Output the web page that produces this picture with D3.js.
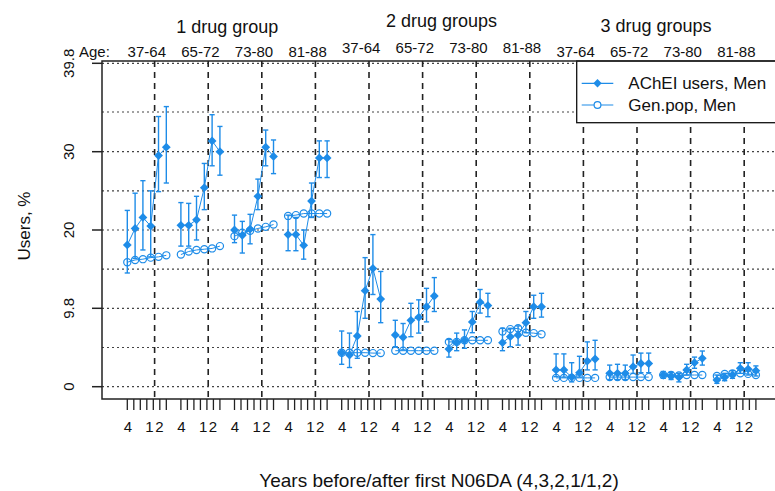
<!DOCTYPE html>
<html><head><meta charset="utf-8">
<script src="https://cdn.jsdelivr.net/npm/d3@7"></script>
<style>
body{margin:0;background:#fff}
text{font-family:Arial,"Liberation Sans",sans-serif;fill:#111}
</style>
</head><body>
<svg id="c" width="775" height="491"></svg>
<script>
// ---------------- data ----------------
const blocks = ["1 drug group", "2 drug groups", "3 drug groups"];
const ages = ["37-64", "65-72", "73-80", "81-88"];
const years = ["-4", "-3", "-2", "-1", "+1", "+2"];
const yearTickLabels = [{label: "4", year: "-4", dx: 0.5}, {label: "1", year: "-1", dx: -1.2}, {label: "2", year: "+1", dx: 0.8}];
const yTicks = [0, 9.8, 20, 30, 39.8];
const yTickPos = [386.7, 308.3, 230, 151.7, 63.3];
const yMinorGrid = [4.9, 14.9, 25, 34.4];

// AChEI users, Men (per group: years 4,3,2,1 before / 1,2 after)
const achei = [
  [18.05, 20.2, 21.6, 20.5, 29.5, 30.5],
  [20.6, 20.6, 21.3, 25.4, 31.2, 30.0],
  [20.0, 19.3, 20.1, 24.3, 30.5, 29.4],
  [19.4, 19.4, 18.0, 23.7, 29.2, 29.2],
  [4.25, 3.96, 6.34, 12.1, 15.0, 11.0],
  [6.46, 6.17, 8.3, 8.67, 10.0, 11.4],
  [4.7, 5.55, 5.8, 8.1, 10.6, 10.15],
  [5.5, 6.25, 6.46, 8.0, 10.0, 10.0],
  [2.1, 2.1, 1.2, 1.75, 3.2, 3.46],
  [1.67, 1.67, 1.67, 2.5, 2.9, 2.9],
  [1.46, 1.34, 1.17, 2.1, 3.0, 3.55],
  [0.84, 1.17, 1.46, 2.3, 2.2, 2.0]
];
const acheiLo = [
  [14.4, 16.3, 17.4, 16.5, 24.9, 26.0],
  [17.9, 17.9, 18.7, 22.6, 28.2, 27.0],
  [18.35, 17.0, 18.2, 22.6, 28.2, 27.2],
  [17.3, 17.3, 16.2, 21.6, 26.7, 26.7],
  [2.8, 2.4, 3.55, 8.55, 11.6, 8.0],
  [5.0, 4.6, 6.25, 6.7, 8.1, 9.4],
  [3.7, 4.5, 4.8, 6.75, 9.2, 8.75],
  [4.5, 5.0, 5.2, 6.75, 8.55, 8.7],
  [1.25, 1.2, 0.6, 1.2, 2.1, 2.1],
  [0.9, 0.9, 0.9, 1.67, 1.75, 1.75],
  [1.05, 0.9, 0.6, 1.46, 2.3, 2.7],
  [0.42, 0.75, 1.05, 1.67, 1.46, 1.34]
];
const acheiHi = [
  [22.5, 24.7, 26.3, 25.0, 33.9, 35.0],
  [23.5, 23.4, 24.3, 28.5, 34.1, 32.8],
  [21.9, 21.1, 22.0, 26.5, 32.4, 31.3],
  [21.9, 21.6, 20.0, 26.0, 31.2, 31.2],
  [6.96, 6.7, 9.4, 16.4, 19.4, 14.6],
  [8.3, 7.9, 10.45, 10.9, 12.4, 13.8],
  [5.9, 6.7, 7.1, 9.4, 12.25, 11.75],
  [7.3, 7.3, 7.6, 9.4, 11.5, 11.75],
  [4.1, 4.1, 3.0, 3.8, 5.6, 5.8],
  [2.7, 2.8, 2.7, 3.96, 4.2, 4.2],
  [1.9, 1.8, 1.67, 2.8, 3.7, 4.46],
  [1.46, 1.67, 2.0, 3.0, 3.0, 2.6]
];
// Gen.pop, Men
const genpop = [
  [15.8, 16.1, 16.2, 16.4, 16.5, 16.7],
  [16.8, 17.2, 17.4, 17.5, 17.6, 17.9],
  [19.2, 19.65, 19.9, 20.2, 20.4, 20.7],
  [21.8, 21.9, 22.1, 22.1, 22.1, 22.1],
  [4.25, 4.25, 4.25, 4.25, 4.2, 4.2],
  [4.5, 4.5, 4.5, 4.5, 4.5, 4.5],
  [5.6, 5.6, 5.8, 5.8, 5.8, 5.8],
  [6.9, 7.2, 7.3, 6.75, 6.7, 6.55],
  [1.1, 1.1, 1.1, 1.1, 1.1, 1.1],
  [1.2, 1.2, 1.2, 1.2, 1.2, 1.2],
  [1.46, 1.46, 1.4, 1.46, 1.46, 1.46],
  [1.34, 1.6, 1.67, 1.67, 1.6, 1.46]
];
const legendLabels = ["AChEI users, Men", "Gen.pop, Men"];

// ---------------- layout ----------------
const color = "#1e8ce8";
const plot = {left: 102, top: 61, bottom: 399, right: 800};
const svg = d3.select("#c");

const groupIds = [];
blocks.forEach((b, bi) => ages.forEach((a, ai) => groupIds.push(bi * 4 + ai)));

const xGroup = d3.scaleBand().domain(groupIds).range([127.3, 755.9]).paddingInner(0.272).paddingOuter(0);
const xYear = d3.scalePoint().domain(years).range([0, xGroup.bandwidth()]);
const xPos = (g, yr) => xGroup(g) + xYear(yr);
const y = d3.scaleLinear().domain(yTicks).range(yTickPos);

// gridlines
const gridVals = yTicks.concat(yMinorGrid);
svg.append("g").selectAll("line").data(gridVals).join("line")
  .attr("x1", plot.left).attr("x2", plot.right)
  .attr("y1", d => y(d)).attr("y2", d => y(d))
  .attr("stroke", "#444").attr("stroke-width", 1.2).attr("stroke-dasharray", "2,3");

// vertical dashed lines between before/after
svg.append("g").selectAll("line").data(groupIds).join("line")
  .attr("x1", g => (xPos(g, "-1") + xPos(g, "+1")) / 2)
  .attr("x2", g => (xPos(g, "-1") + xPos(g, "+1")) / 2)
  .attr("y1", plot.top).attr("y2", plot.bottom)
  .attr("stroke", "#222").attr("stroke-width", 1.6).attr("stroke-dasharray", "6,5");

// data
const lineGen = d3.line().x(d => d.x).y(d => y(d.v));
const diamond = r => `M0,${-r}L${r},0L0,${r}L${-r},0Z`;

groupIds.forEach(g => {
  const aPts = years.map((yr, j) => ({x: xPos(g, yr), v: achei[g][j], lo: acheiLo[g][j], hi: acheiHi[g][j]}));
  const gPts = years.map((yr, j) => ({x: xPos(g, yr), v: genpop[g][j]}));
  const gg = svg.append("g");
  // gen pop
  gg.append("path").attr("d", lineGen(gPts)).attr("fill", "none").attr("stroke", color).attr("stroke-width", 1);
  gg.selectAll("circle").data(gPts).join("circle")
    .attr("cx", d => d.x).attr("cy", d => y(d.v)).attr("r", 3.6)
    .attr("fill", "#fff").attr("fill-opacity", 0).attr("stroke", color).attr("stroke-width", 1.2);
  // achei error bars
  const eb = gg.append("g").attr("stroke", color).attr("stroke-width", 1.4);
  aPts.forEach(d => {
    eb.append("line").attr("x1", d.x).attr("x2", d.x).attr("y1", y(d.lo)).attr("y2", y(d.hi));
    eb.append("line").attr("x1", d.x - 2.6).attr("x2", d.x + 2.6).attr("y1", y(d.lo)).attr("y2", y(d.lo));
    eb.append("line").attr("x1", d.x - 2.6).attr("x2", d.x + 2.6).attr("y1", y(d.hi)).attr("y2", y(d.hi));
  });
  gg.append("path").attr("d", lineGen(aPts)).attr("fill", "none").attr("stroke", color).attr("stroke-width", 1);
  gg.selectAll("path.pt").data(aPts).join("path").attr("class", "pt")
    .attr("transform", d => `translate(${d.x},${y(d.v)})`)
    .attr("d", diamond(4.4)).attr("fill", color);
});

// legend
const lg = svg.append("g");
lg.append("rect").attr("x", 576.7).attr("y", plot.top).attr("width", 230).attr("height", 61.7)
  .attr("fill", "#fff").attr("stroke", "#111").attr("stroke-width", 1.3);
legendLabels.forEach((t, i) => {
  const ly = 83.3 + i * 21.7;
  lg.append("line").attr("x1", 581.7).attr("x2", 613.3).attr("y1", ly).attr("y2", ly)
    .attr("stroke", color).attr("stroke-width", 1.2);
  if (i === 0) {
    lg.append("path").attr("transform", `translate(597.5,${ly})`).attr("d", diamond(4.2)).attr("fill", color);
  } else {
    lg.append("circle").attr("cx", 597.5).attr("cy", ly).attr("r", 3.4).attr("fill", "#fff")
      .attr("stroke", color).attr("stroke-width", 1.2);
  }
  lg.append("text").attr("x", 628.3).attr("y", ly + 6).attr("font-size", 17).text(t);
});

// plot border
svg.append("rect").attr("x", plot.left).attr("y", plot.top)
  .attr("width", plot.right - plot.left).attr("height", plot.bottom - plot.top)
  .attr("fill", "none").attr("stroke", "#222").attr("stroke-width", 1.5);

// y axis
const ya = svg.append("g");
yTicks.forEach(v => {
  ya.append("line").attr("x1", 92).attr("x2", plot.left).attr("y1", y(v)).attr("y2", y(v))
    .attr("stroke", "#222").attr("stroke-width", 1.5);
  ya.append("text").attr("transform", `translate(74,${y(v)}) rotate(-90)`)
    .attr("text-anchor", "middle").attr("font-size", 15).text(String(v));
});
svg.append("text").attr("transform", "translate(30,226) rotate(-90)")
  .attr("text-anchor", "middle").attr("font-size", 17).text("Users, %");

// x axis ticks (bottom)
const tickIdx = d3.range(7);
const tickScale = d3.scaleLinear().domain([0, 6]).range([0, xGroup.bandwidth()]);
const xa = svg.append("g");
groupIds.forEach(g => {
  tickIdx.forEach(t => {
    const tx = xGroup(g) + tickScale(t);
    xa.append("line").attr("x1", tx).attr("x2", tx).attr("y1", plot.bottom).attr("y2", 410)
      .attr("stroke", "#222").attr("stroke-width", 1.3);
  });
  yearTickLabels.forEach(l => {
    xa.append("text").attr("x", xPos(g, l.year) + l.dx).attr("y", 432).attr("text-anchor", "middle")
      .attr("font-size", 15).text(l.label);
  });
});
svg.append("text").attr("x", 439).attr("y", 487).attr("text-anchor", "middle")
  .attr("font-size", 19).text("Years before/after first N06DA (4,3,2,1/1,2)");

// top labels
const titleBase = [33, 27, 32];
const ageBase = [57, 53, 57];
blocks.forEach((b, bi) => {
  const gs = groupIds.slice(bi * 4, bi * 4 + 4);
  const cx = d3.mean(gs, g => xGroup(g) + xGroup.bandwidth() / 2);
  svg.append("text").attr("x", cx).attr("y", titleBase[bi]).attr("text-anchor", "middle")
    .attr("font-size", 18).text(b);
  gs.forEach((g, ai) => {
    svg.append("text").attr("x", xGroup(g) + xGroup.bandwidth() / 2).attr("y", ageBase[bi])
      .attr("text-anchor", "middle").attr("font-size", 15).text(ages[ai]);
  });
});
svg.append("text").attr("x", 79).attr("y", 57).attr("font-size", 15).text("Age:");
</script>
</body></html>
